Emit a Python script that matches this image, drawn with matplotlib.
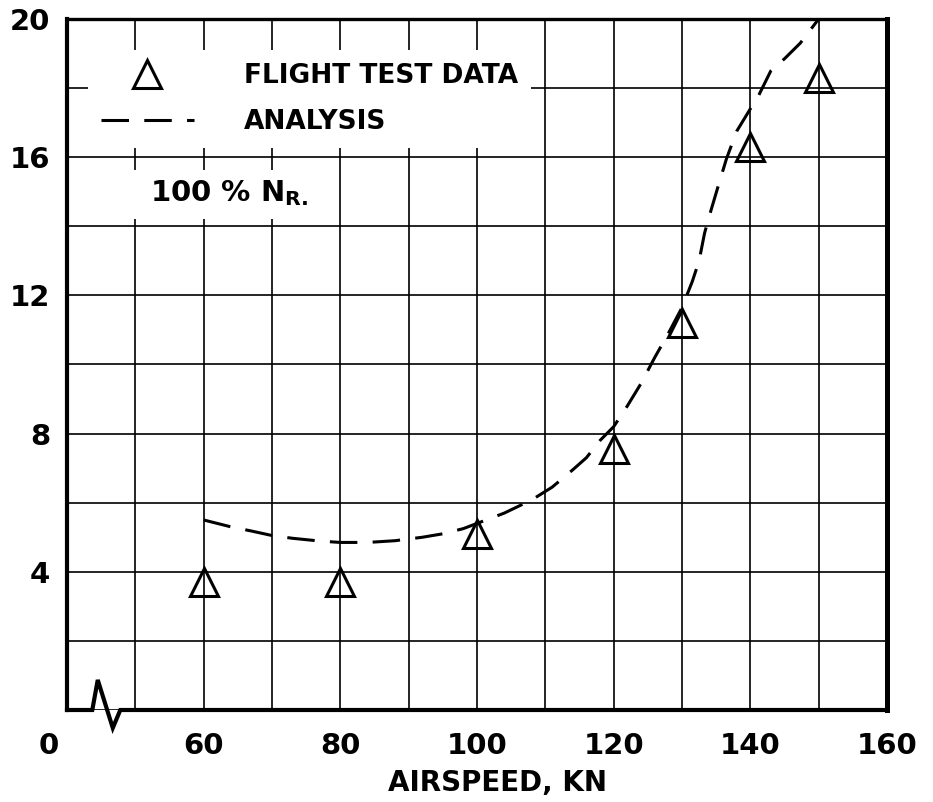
import matplotlib
matplotlib.use('Agg')
import matplotlib.pyplot as plt
from matplotlib.lines import Line2D
from matplotlib.patches import Rectangle
from matplotlib.transforms import ScaledTranslation, blended_transform_factory

plt.rcParams['font.family'] = ['DejaVu Sans']
plt.rcParams['font.weight'] = 'bold'
plt.rcParams['mathtext.fontset'] = 'dejavusans'

# flight test points (airspeed, kn)
flight_x = [60, 80, 100, 120, 130, 140, 150]
flight_y = [3.7, 3.7, 5.1, 7.55, 11.2, 16.3, 18.3]

# analysis curve
analysis_x = [60, 64, 67, 70, 73, 77, 80, 84, 88, 92, 95, 98, 100, 104, 108,
              111, 114, 116, 118, 120, 122, 124, 126, 128, 130, 131.5, 132.5,
              133.3, 134, 135.2, 136.5, 138, 140, 141, 143, 145, 147.3, 150]
analysis_y = [5.5, 5.3, 5.18, 5.05, 4.97, 4.89, 4.85, 4.85, 4.9, 5.0, 5.1, 5.25,
              5.4, 5.7, 6.08, 6.45, 6.95, 7.3, 7.8, 8.2, 8.8, 9.45, 10.2, 10.9,
              11.65, 12.4, 13.0, 13.8, 14.3, 15.1, 15.95, 16.75, 17.4, 17.7,
              18.5, 18.85, 19.3, 20.0]

x_ticks = [40, 60, 80, 100, 120, 140, 160]
x_labels = ['0', '60', '80', '100', '120', '140', '160']
y_ticks = [4, 8, 12, 16, 20]
y_labels = ['4', '8', '12', '16', '20']

# broken x axis near the origin
break_x = [40, 43.7, 44.5, 46.7, 47.8, 160]
break_y = [0, 0, 0.87, -0.52, 0, 0]

fig = plt.figure(figsize=(9.33, 8.02), dpi=100)
ax = fig.add_axes([67 / 933, 1 - 710 / 802, 820 / 933, 691 / 802])

ax.set_xlim(40, 160)
ax.set_ylim(0, 20)
ax.set_xticks(x_ticks)
ax.set_xticklabels(x_labels, fontsize=21)
ax.set_xticks(range(40, 161, 10), minor=True)
ax.set_yticks(y_ticks)
ax.set_yticklabels(y_labels, fontsize=21)
ax.set_yticks(range(0, 21, 2), minor=True)
ax.tick_params(which='both', length=0)
ax.tick_params(axis='x', pad=16)
ax.tick_params(axis='y', pad=12)
ax.set_axisbelow(True)
ax.grid(which='both', color='black', linewidth=1.2)

# shift the "0" label left of the axis corner
zero_lbl = ax.get_xticklabels()[0]
zero_lbl.set_transform(zero_lbl.get_transform() + ScaledTranslation(-0.18, 0, fig.dpi_scale_trans))

for side, lw in [('left', 3.0), ('right', 3.6), ('top', 2.4)]:
    ax.spines[side].set_linewidth(lw)
ax.spines['bottom'].set_visible(False)
ax.plot(break_x, break_y, color='black', lw=3.0, clip_on=False,
        solid_joinstyle='miter', zorder=4)

ax.plot(analysis_x, analysis_y, color='black', lw=2.2, linestyle=(0, (9, 5)),
        clip_on=False, zorder=3)
ax.plot(flight_x, flight_y, linestyle='none', marker='^', markersize=20,
        markerfacecolor='none', markeredgecolor='black', markeredgewidth=2.2,
        zorder=3)

handles = [
    Line2D([], [], linestyle='none', marker='^', markersize=20,
           markerfacecolor='none', markeredgecolor='black', markeredgewidth=2.2),
    Line2D([], [], color='black', lw=2.2, linestyle=(0, (9, 5))),
]
leg = ax.legend(handles, ['FLIGHT TEST DATA', 'ANALYSIS'], loc='upper left',
                bbox_to_anchor=(21 / 820, 0.955), borderaxespad=0,
                fontsize=19, handlelength=3.5, handletextpad=1.9,
                labelspacing=0.75, borderpad=0.5, frameon=True,
                fancybox=False, framealpha=1)
leg.get_frame().set_edgecolor('none')
leg.get_frame().set_facecolor('white')

# white patch behind the rotor speed note, blanking the grid there
trans = blended_transform_factory(ax.transAxes, ax.transData)
ax.add_patch(Rectangle((0.004, 14.2), 0.28, 1.42, transform=trans,
                       facecolor='white', edgecolor='none', zorder=2))
ax.text(0.101, 14.95, r'100 % N$_{\mathbf{R.}}$', transform=trans,
        fontsize=21, va='center', ha='left', zorder=3)

ax.set_xlabel('AIRSPEED, KN', fontsize=20, fontweight='bold', labelpad=6)
ax.xaxis.label.set_x(0.525)

fig.savefig('out.png', dpi=100)
